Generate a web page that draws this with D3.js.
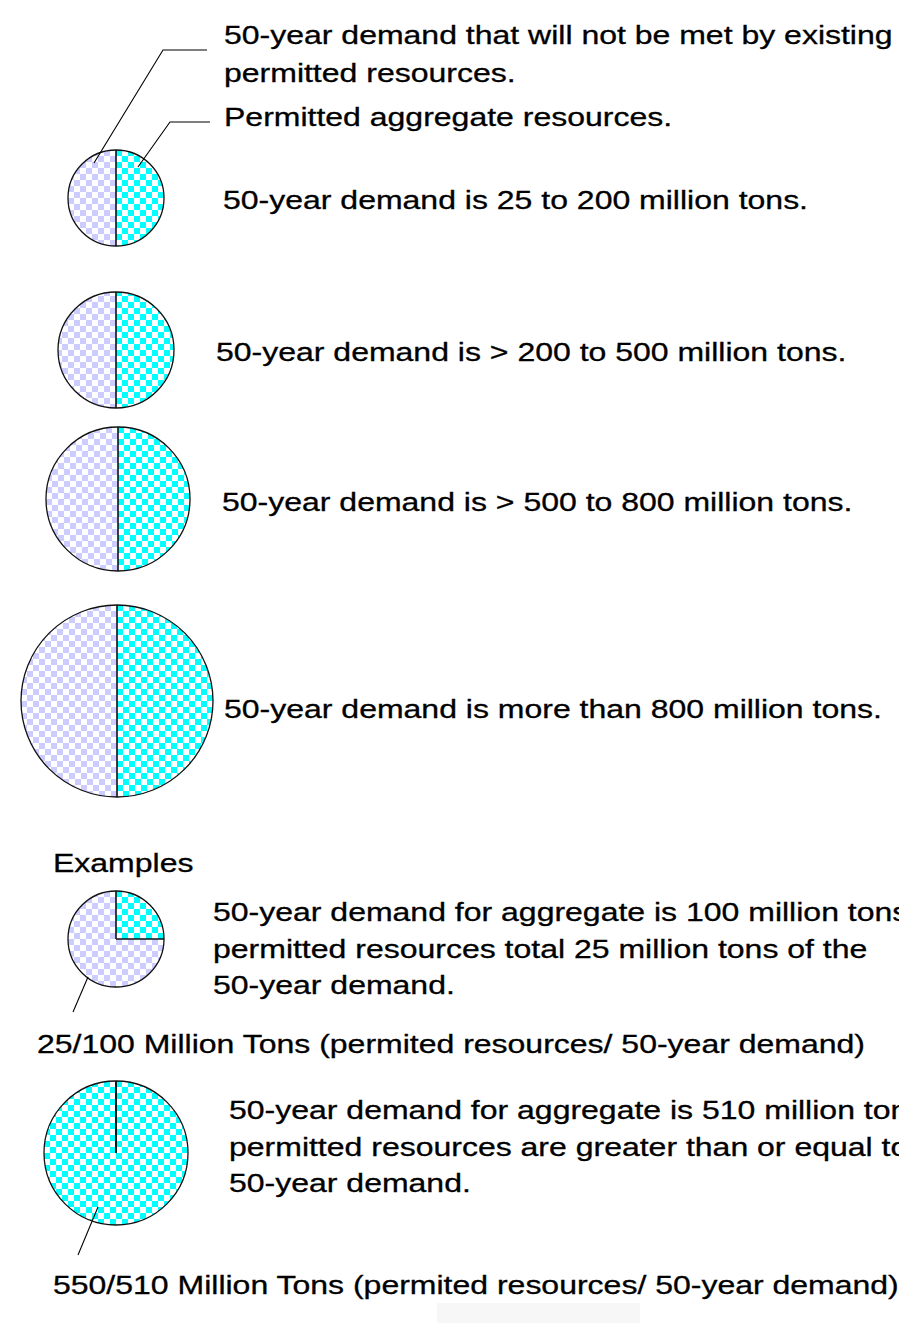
<!DOCTYPE html>
<html>
<head>
<meta charset="utf-8">
<script src="https://cdn.jsdelivr.net/npm/d3@7"></script>
<style>
  body { margin: 0; background: #fff; }
  svg { display: block; }
  text { font-family: "Liberation Sans", Arial, sans-serif; font-size: 25.5px; fill: #000; stroke: #000; stroke-width: 0.3px; }
</style>
</head>
<body>
<svg id="chart" width="899" height="1323"></svg>
<script>
// legend pies: demand classes (permitted / unmet shown as half and half)
const demandClasses = ['25-200', '200-500', '500-800', '800+'];
const classLabels = [
  '50-year demand is 25 to 200 million tons.',
  '50-year demand is > 200 to 500 million tons.',
  '50-year demand is > 500 to 800 million tons.',
  '50-year demand is more than 800 million tons.'
];
const legendPermitted = [50, 50, 50, 50];
const legendUnmet = [50, 50, 50, 50];

// example pies
const exampleClasses = ['25-200', '500-800'];
const examplePermitted = [25, 550];
const exampleDemand = [100, 510];
const exampleText = [
  ['50-year demand for aggregate is 100 million tons',
   'permitted resources total 25 million tons of the',
   '50-year demand.'],
  ['50-year demand for aggregate is 510 million tons',
   'permitted resources are greater than or equal to',
   '50-year demand.']
];
const exampleCaptions = [
  '25/100 Million Tons (permited resources/ 50-year demand)',
  '550/510 Million Tons (permited resources/ 50-year demand)'
];
const keyLabels = [
  ['50-year demand that will not be met by existing', 'permitted resources.'],
  ['Permitted aggregate resources.']
];

const svg = d3.select('#chart');
const sx = 1.255; // text in the original is stretched horizontally

const defs = svg.append('defs');
function checker(id, color) {
  const p = defs.append('pattern')
    .attr('id', id)
    .attr('patternUnits', 'userSpaceOnUse')
    .attr('width', 12).attr('height', 12);
  p.append('rect').attr('width', 12).attr('height', 12).attr('fill', '#fff');
  p.append('rect').attr('width', 6).attr('height', 6).attr('fill', color);
  p.append('rect').attr('x', 6).attr('y', 6).attr('width', 6).attr('height', 6).attr('fill', color);
}
checker('permitted', '#00ffff');
checker('unmet', '#ccccff');

const radius = d3.scaleOrdinal()
  .domain(demandClasses)
  .range([48, 58, 72, 96]);

const pie = d3.pie().sort(null).value(d => d.value);

function drawPie(cx, cy, r, permitted, unmet) {
  const g = svg.append('g').attr('transform', `translate(${cx},${cy})`);
  const slices = pie([
    { key: 'permitted', value: permitted },
    { key: 'unmet', value: unmet }
  ]);
  const arc = d3.arc().innerRadius(0).outerRadius(r);
  g.selectAll('path.slice')
    .data(slices)
    .enter()
    .append('path')
    .attr('class', 'slice')
    .attr('d', arc)
    .attr('fill', d => `url(#${d.data.key})`);
  // slice edges
  slices.forEach(s => {
    const [x, y] = d3.pointRadial(s.startAngle, r);
    g.append('line')
      .attr('x1', 0).attr('y1', 0)
      .attr('x2', x).attr('y2', y)
      .attr('stroke', '#111')
      .attr('stroke-width', 1.6);
  });
  g.append('circle')
    .attr('r', r)
    .attr('fill', 'none')
    .attr('stroke', '#111')
    .attr('stroke-width', 1.3);
}

function label(x, y, str) {
  svg.append('text')
    .attr('transform', `translate(${x},${y}) scale(${sx},1)`)
    .text(str);
}

function leader(points) {
  svg.append('path')
    .attr('d', d3.line()(points))
    .attr('fill', 'none')
    .attr('stroke', '#000')
    .attr('stroke-width', 1.1);
}

// legend pies
const legendCenters = [[116, 198], [116, 350], [118, 499], [117, 701]];
const legendLabelPos = [[223, 209], [216, 361], [222, 511], [224, 718]];
demandClasses.forEach((c, i) => {
  const [cx, cy] = legendCenters[i];
  drawPie(cx, cy, radius(c), legendPermitted[i], legendUnmet[i]);
  label(legendLabelPos[i][0], legendLabelPos[i][1], classLabels[i]);
});

// key leaders and labels
leader([[94, 163], [163, 50], [207, 50]]);
leader([[138, 167], [170, 122], [210, 122]]);
label(224, 44, keyLabels[0][0]);
label(224, 82, keyLabels[0][1]);
label(224, 126, keyLabels[1][0]);

// examples
label(53, 872, 'Examples');

const exampleCenters = [[116, 939], [116, 1153]];
const exampleRadius = [48, 72];
const exampleTextX = [213, 229];
const exampleTextY = [921, 1119];
const captionPos = [[37, 1053], [53, 1294]];
const exampleLeaders = [
  [[88, 977], [73, 1012]],
  [[98, 1207], [78, 1255]]
];

examplePermitted.forEach((p, i) => {
  const [cx, cy] = exampleCenters[i];
  drawPie(cx, cy, exampleRadius[i], p, Math.max(0, exampleDemand[i] - p));
  exampleText[i].forEach((t, j) => label(exampleTextX[i], exampleTextY[i] + j * 36.5, t));
  leader(exampleLeaders[i]);
  label(captionPos[i][0], captionPos[i][1], exampleCaptions[i]);
});

// faint box at the bottom edge
svg.append('rect')
  .attr('x', 437).attr('y', 1303)
  .attr('width', 203).attr('height', 20)
  .attr('fill', '#f7f7f7');
</script>
</body>
</html>
